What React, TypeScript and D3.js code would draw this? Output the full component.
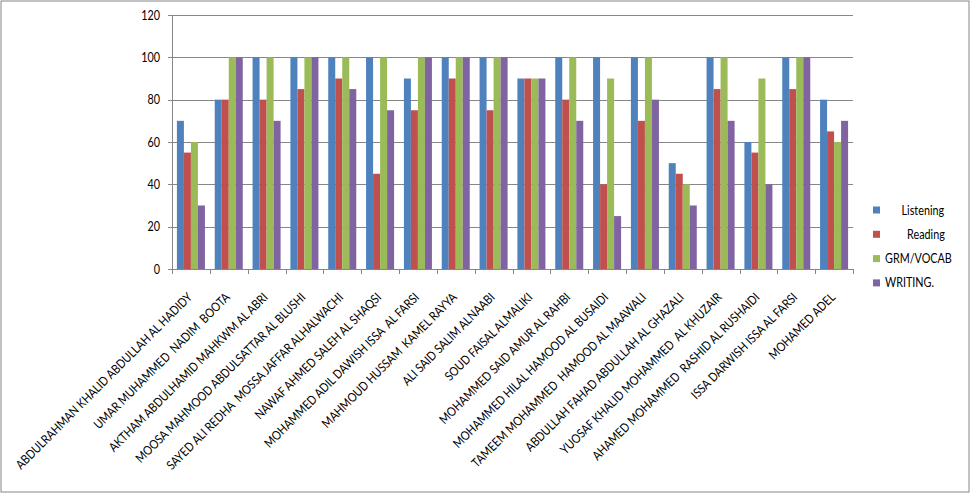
import React from "react";
import * as d3 from "d3";

const categories = [
  "ABDULRAHMAN KHALID ABDULLAH AL HADIDY",
  "UMAR MUHAMMED  NADIM  BOOTA",
  "AKTHAM ABDULHAMID MAHKWM AL ABRI",
  "MOOSA MAHMOOD ABDULSATTAR AL BLUSHI",
  "SAYED ALI REDHA  MOSSA JAFFAR ALHALWACHI",
  "NAWAF AHMED SALEH AL SHAQSI",
  "MOHAMMED ADIL DAWISH ISSA  AL FARSI",
  "MAHMOUD HUSSAM  KAMEL RAYYA",
  "ALI SAID SALIM ALNAABI",
  "SOUD FAISAL ALMALIKI",
  "MOHAMMED SAID AMUR AL RAHBI",
  "MOHAMMED HILAL HAMOOD AL BUSAIDI",
  "TAMEEM MOHAMMED  HAMOOD AL MAAWALI",
  "ABDULLAH FAHAD ABDULLAH AL GHAZALI",
  "YUOSAF KHALID MOHAMMED  AL KHUZAIR",
  "AHAMED MOHAMMED  RASHID AL RUSHAIDI",
  "ISSA DARWISH ISSA AL FARSI",
  "MOHAMED ADEL",
];

const listening = [70, 80, 100, 100, 100, 100, 90, 100, 100, 90, 100, 100, 100, 50, 100, 60, 100, 80];
const reading = [55, 80, 80, 85, 90, 45, 75, 90, 75, 90, 80, 40, 70, 45, 85, 55, 85, 65];
const grammar = [60, 100, 100, 100, 100, 100, 100, 100, 100, 90, 100, 90, 100, 40, 100, 90, 100, 60];
const writing = [30, 100, 70, 100, 85, 75, 100, 100, 100, 90, 70, 25, 80, 30, 70, 40, 100, 70];

const seriesNames = ["      Listening", "        Reading", "GRM/VOCAB", "WRITING."];
const seriesColors = ["#4F81BD", "#C0504D", "#9BBB59", "#8064A2"];
const seriesValues = [listening, reading, grammar, writing];
const yTicks = [0, 20, 40, 60, 80, 100, 120];

export default function App() {
  const W = 971;
  const H = 494;
  const left = 172;
  const right = 853;
  const top = 15;
  const bottom = 269;

  const x = d3.scaleBand<string>().domain(categories).range([left, right]).paddingInner(0).paddingOuter(0);
  const inner = d3
    .scaleBand<string>()
    .domain(seriesNames)
    .range([0, x.bandwidth()])
    .paddingOuter(0.7)
    .paddingInner(0);
  const y = d3.scaleLinear().domain([0, 120]).range([bottom, top]);

  const font = "Lato, 'Open Sans', sans-serif";
  const grid = "#868686";
  const sx = 0.83;
  const sxl = 0.86;

  return (
    <svg
      width={W}
      height={H}
      style={{ position: "absolute", left: 0, top: 0, background: "#fff" }}
      fontFamily={font}
    >
      <rect x={1} y={1} width={W - 3} height={H - 3} fill="#fff" stroke="#868686" strokeWidth={1} />
      {yTicks.map((t) => (
        <g key={t}>
          <line x1={left - 4} x2={right} y1={Math.round(y(t)) + 0.5} y2={Math.round(y(t)) + 0.5} stroke={grid} strokeWidth={1} />
          <text
            transform={`translate(160,${y(t)}) scale(${sx},1)`}
            dy="0.35em"
            textAnchor="end"
            fontSize={13}
            fill="#000"
          >
            {t}
          </text>
        </g>
      ))}
      <line x1={left + 0.5} x2={left + 0.5} y1={top} y2={bottom} stroke={grid} />
      {categories.map((c, i) => (
        <g key={c}>
          {seriesValues.map((vals, s) => (
            <rect
              key={s}
              x={(x(c) as number) + (inner(seriesNames[s]) as number)}
              y={y(vals[i])}
              width={inner.bandwidth()}
              height={bottom - y(vals[i])}
              fill={seriesColors[s]}
            />
          ))}
        </g>
      ))}
      {categories.concat(["__end"]).map((c, i) => {
        const xx = Math.round(i < categories.length ? (x(c) as number) : right) + 0.5;
        return <line key={"t" + i} x1={xx} x2={xx} y1={bottom} y2={bottom + 5} stroke={grid} />;
      })}
      <line x1={left} x2={right} y1={bottom + 0.5} y2={bottom + 0.5} stroke={grid} />
      {categories.map((c) => {
        const cx = (x(c) as number) + x.bandwidth() / 2 + 2;
        return (
          <text
            key={"l" + c}
            transform={`translate(${cx},${bottom + 29}) rotate(-45) scale(${sxl},1)`}
            textAnchor="end"
            fontSize={12.5}
            fill="#000"
            style={{ whiteSpace: "pre" }}
          >
            {c}
          </text>
        );
      })}
      {seriesNames.map((n, s) => {
        const ly = 210 + s * 24.3;
        return (
          <g key={n}>
            <rect x={873} y={ly - 3.5} width={7} height={7} fill={seriesColors[s]} />
            <text
              transform={`translate(885,${ly}) scale(${sx},1)`}
              dy="0.35em"
              fontSize={13}
              fill="#000"
              style={{ whiteSpace: "pre" }}
            >
              {n}
            </text>
          </g>
        );
      })}
    </svg>
  );
}
